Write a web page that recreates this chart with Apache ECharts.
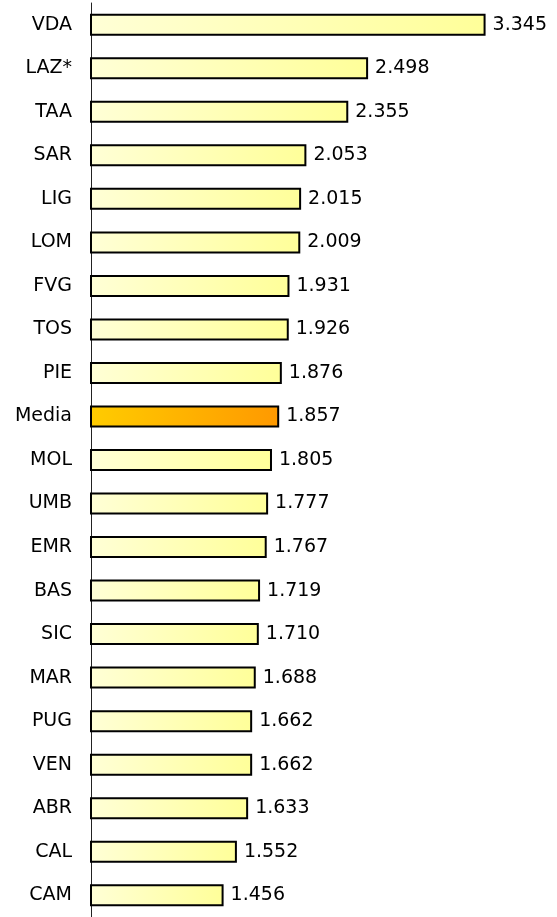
<!DOCTYPE html>
<html>
<head>
<meta charset="utf-8">
<script src="https://cdn.jsdelivr.net/npm/echarts@6/dist/echarts.min.js"></script>
<style>
  html, body { margin: 0; padding: 0; background: #fff; }
  #chart { width: 557px; height: 917px; }
</style>
</head>
<body>
<div id="chart"></div>
<script>
// regioni, dall'alto in basso
var regioni = ['VDA', 'LAZ*', 'TAA', 'SAR', 'LIG', 'LOM', 'FVG', 'TOS', 'PIE', 'Media', 'MOL',
    'UMB', 'EMR', 'BAS', 'SIC', 'MAR', 'PUG', 'VEN', 'ABR', 'CAL', 'CAM'];
var valori = [3.345, 2.498, 2.355, 2.053, 2.015, 2.009, 1.931, 1.926, 1.876, 1.857, 1.805,
    1.777, 1.767, 1.719, 1.710, 1.688, 1.662, 1.662, 1.633, 1.552, 1.456];

var giallo = new echarts.graphic.LinearGradient(0, 0, 1, 0, [
    { offset: 0, color: '#ffffd6' },
    { offset: 1, color: '#ffff99' }
]);
var arancio = new echarts.graphic.LinearGradient(0, 0, 1, 0, [
    { offset: 0, color: '#ffcc00' },
    { offset: 1, color: '#ff9900' }
]);

var dati = valori.map(function(v, i) {
    return {
        value: v,
        itemStyle: { color: regioni[i] === 'Media' ? arancio : giallo }
    };
});

var myChart = echarts.init(document.getElementById('chart'));
myChart.setOption({
    animation: false,
    backgroundColor: '#ffffff',
    grid: {
        left: 91,
        right: 0,
        top: 3,
        height: 921
    },
    xAxis: {
        type: 'value',
        min: 0.5,
        max: 3.86,
        show: false
    },
    yAxis: {
        type: 'category',
        inverse: true,
        data: regioni,
        axisLine: { lineStyle: { color: '#222222', width: 1 } },
        axisTick: { show: false },
        axisLabel: {
            margin: 19,
            color: '#000',
            fontFamily: 'DejaVu Sans',
            fontSize: 19
        }
    },
    series: [{
        type: 'bar',
        data: dati,
        barWidth: 22,
        itemStyle: {
            borderColor: '#000000',
            borderWidth: 2
        },
        label: {
            show: true,
            position: 'right',
            distance: 7,
            color: '#000',
            fontFamily: 'DejaVu Sans',
            fontSize: 19,
            formatter: function(p) {
                return p.value.toFixed(3);
            }
        }
    }]
});
</script>
</body>
</html>
